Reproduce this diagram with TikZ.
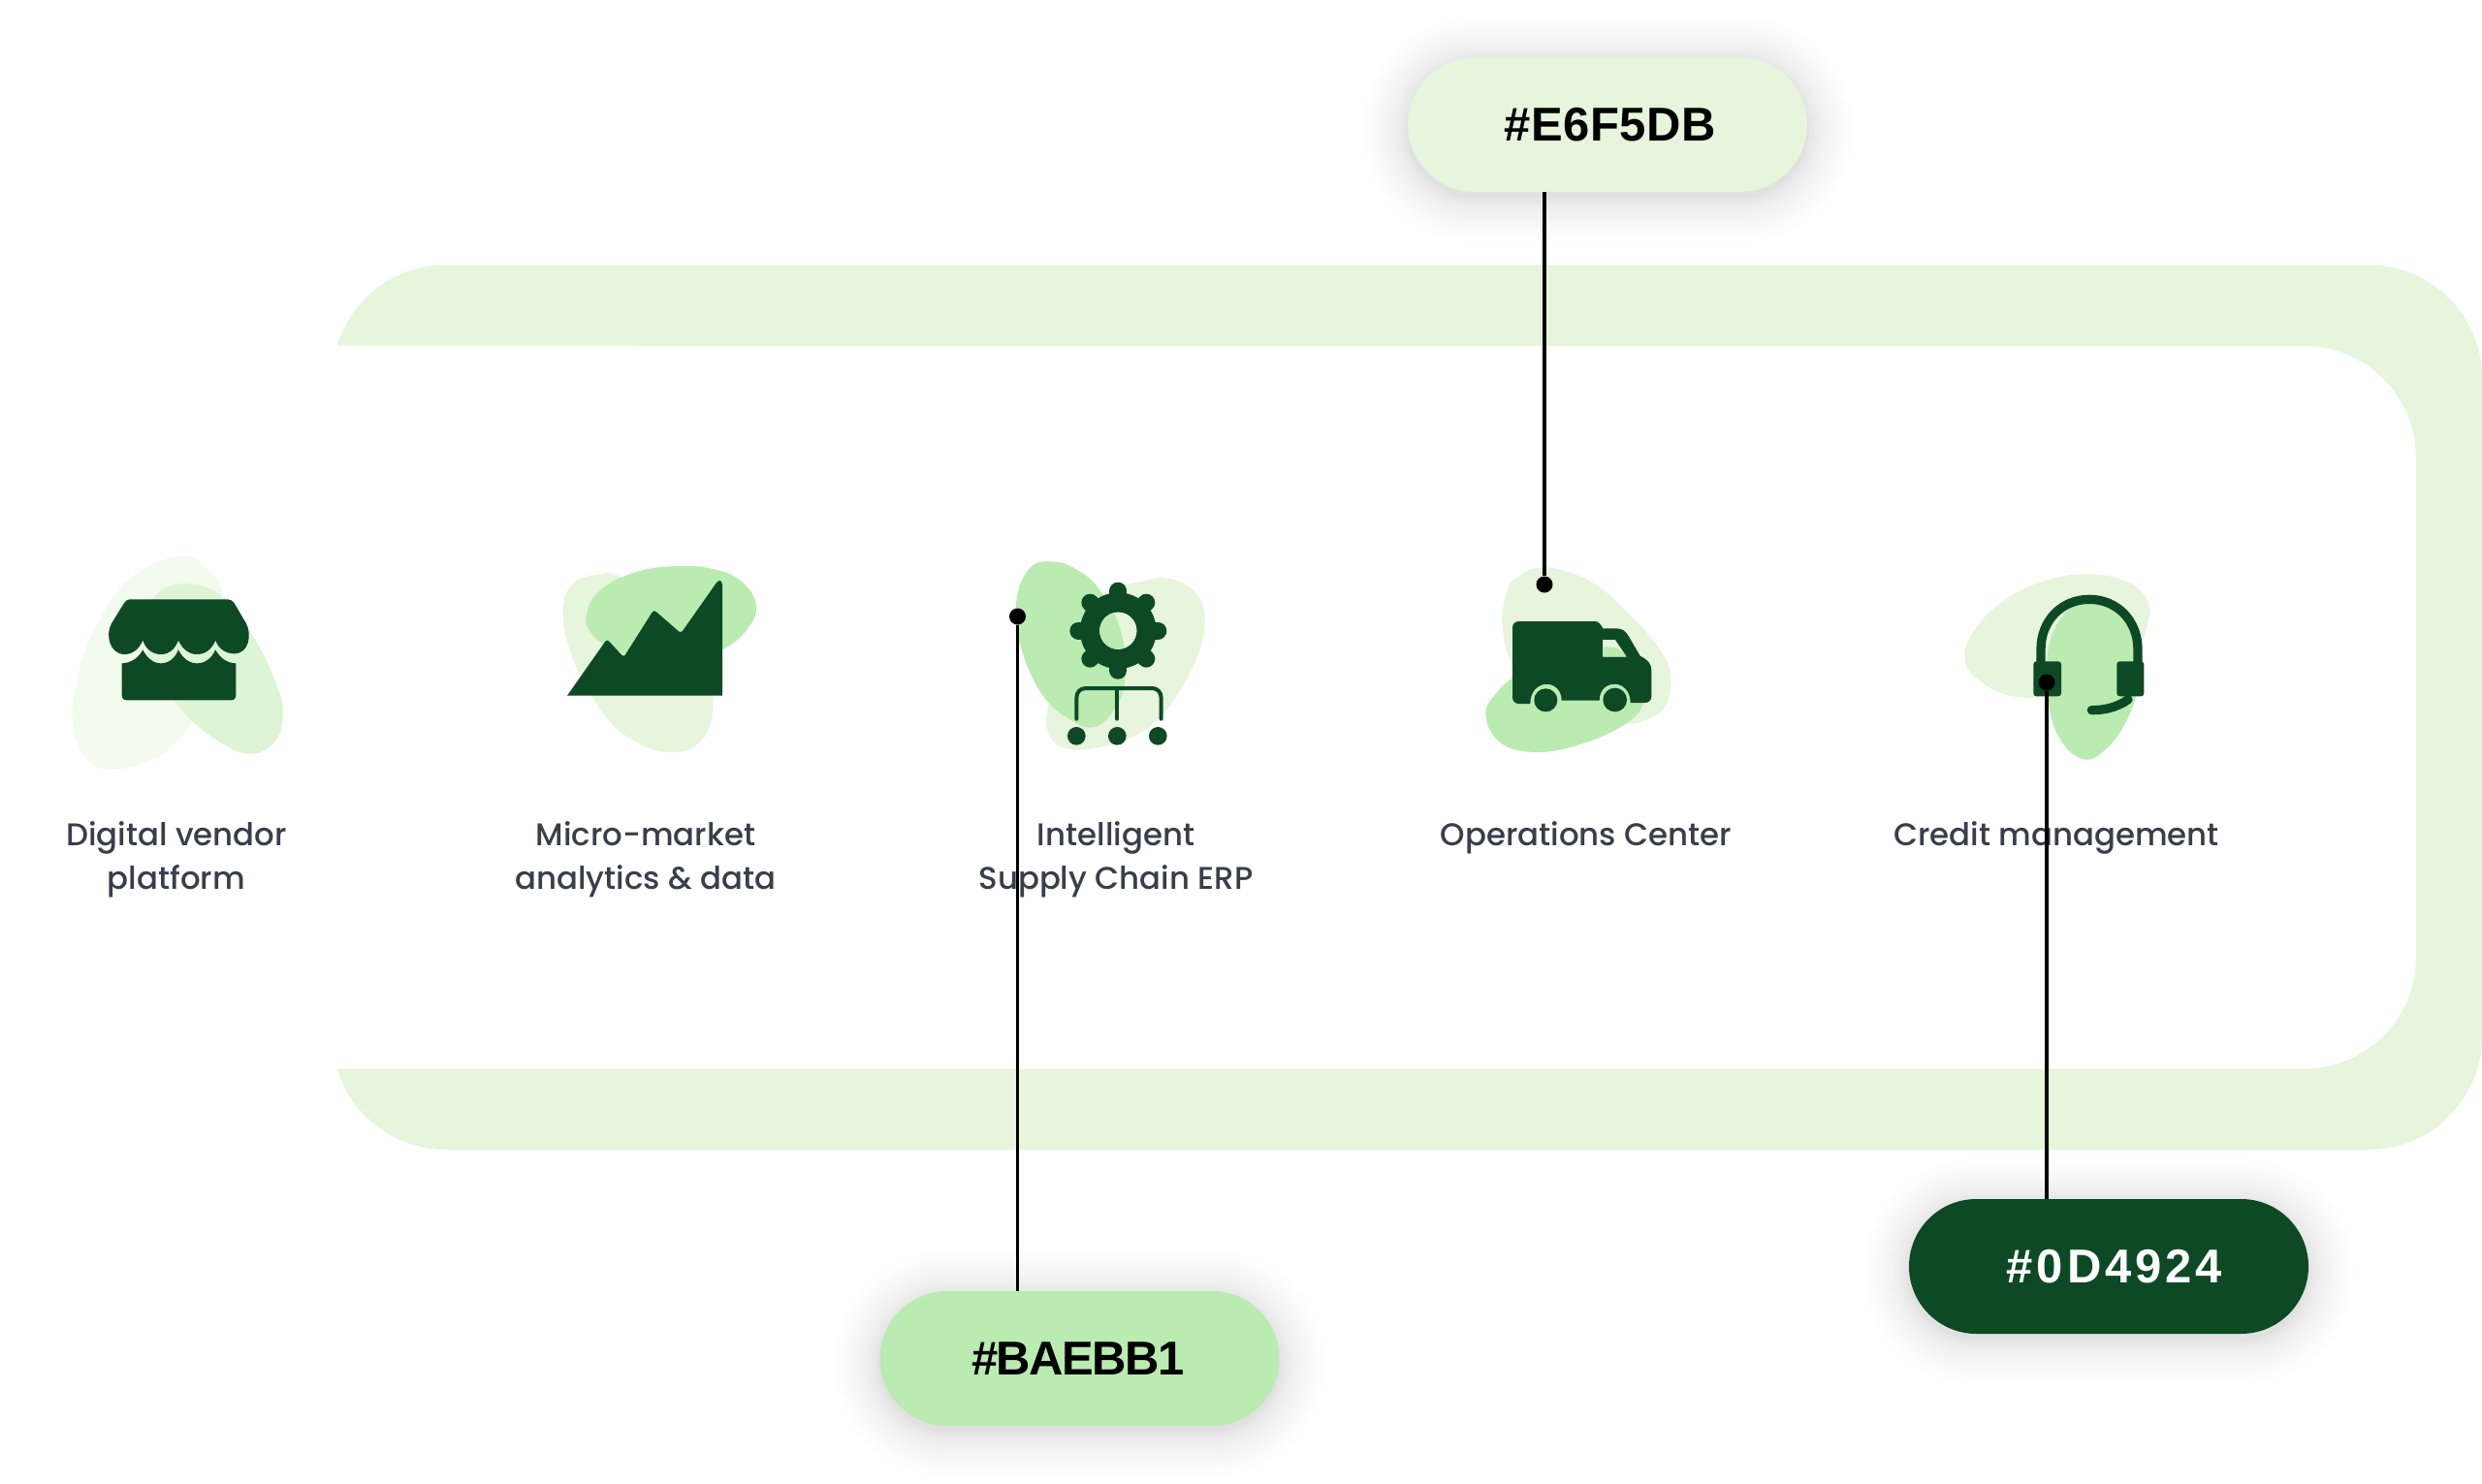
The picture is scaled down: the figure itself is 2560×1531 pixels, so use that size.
\documentclass[tikz,border=0pt]{standalone}
\usepackage{fontspec}
\usetikzlibrary{shapes.misc}
\setmainfont{Liberation Sans}
\newfontfamily\labfont{Poppins Medium}
\definecolor{pale}{HTML}{E6F5DB}
\definecolor{mint}{HTML}{BAEBB1}
\definecolor{deep}{HTML}{0D4924}
\definecolor{faint}{HTML}{F3FAEE}
\definecolor{soft}{HTML}{DDF4D5}
\definecolor{inkgrey}{HTML}{3C3C4C}
\tikzset{
  pill/.style={rounded rectangle,minimum width=412pt,minimum height=139pt,inner sep=0pt,font=\fontsize{49}{56}\selectfont\bfseries},
  lab/.style={anchor=base,align=center,inner sep=0pt,text=inkgrey,font=\fontsize{32.4}{45}\selectfont\labfont},
  conn/.style={draw=black,line width=3.4pt},
  pin/.style={circle,fill=black,minimum size=17pt,inner sep=0pt},
  icon/.style={fill=deep},
  iconline/.style={draw=deep,line cap=round,fill=none},
  zoomed/.style={x=0.33333pt,y=-0.33333pt},
  blob/.style={smooth cycle,tension=.7}
}
\newcommand{\pillshadow}[2]{%
  \foreach \g in {1,2,3,5,7,9,12,15,18,22,26,30,35,40,46}{%
    \pgfmathsetmacro{\rr}{69.5+\g}%
    \fill[black,opacity=.006,rounded corners=\rr pt] ({#1-206-\g},{#2-69.5-\g+5}) rectangle ({#1+206+\g},{#2+69.5+\g+5});
  }}
\newcommand{\gearblobs}{%
  \fill[pale] plot[blob] coordinates {(510,80)(590,120)(622,200)(600,320)(510,480)(400,570)(280,605)(190,605)(140,560)(140,470)(200,300)(330,130)(430,90)};
  \fill[mint] plot[blob] coordinates {(150,28)(80,50)(40,150)(50,280)(120,440)(220,525)(285,538)(340,490)(375,400)(365,250)(300,120)(230,55)};}
\newcommand{\truckblobs}{%
  \fill[pale] plot[blob] coordinates {(210,33)(290,40)(400,90)(510,190)(600,300)(625,390)(600,470)(540,505)(480,510)(300,450)(150,350)(105,220)(120,100)(160,55)};
  \fill[mint] plot[blob] coordinates {(52,490)(85,420)(150,365)(280,300)(430,278)(490,310)(535,400)(535,465)(470,525)(340,580)(210,603)(100,575)};}
\begin{document}
\begin{tikzpicture}[x=1pt,y=-1pt]
\useasboundingbox (0,0) rectangle (2560,1531);
\fill[white] (0,0) rectangle (2560,1531);
% band
\fill[pale] (347.7,356.7) .. controls (362.5,307.2) and (408.3,273.3) .. (460,273.3)
  -- (2443,273.3) .. controls (2507.6,273.3) and (2560,325.7) .. (2560,390.3)
  -- (2560,1069) .. controls (2560,1133.6) and (2507.6,1186) .. (2443,1186)
  -- (460,1186) .. controls (408.3,1186) and (362.5,1152.1) .. (347.7,1102.6)
  -- (2377,1102.6) .. controls (2440.5,1102.6) and (2492,1051.1) .. (2492,987.6)
  -- (2492,472) .. controls (2492,408.5) and (2440.5,357) .. (2377,357)
  -- (347.7,356.7) -- cycle;
% store icon
\begin{scope}[shift={(60,565)},zoomed]
  \fill[faint] plot[blob] coordinates {(370,28)(460,65)(510,170)(480,400)(400,560)(300,650)(170,685)(85,650)(45,540)(60,410)(110,260)(220,100)};
  \fill[soft] plot[blob] coordinates {(385,112)(500,145)(600,270)(670,410)(695,510)(670,600)(590,638)(490,595)(390,510)(300,380)(265,250)(300,150)};
  \fill[icon] (222,160) -- (525,160) .. controls (535,160) and (540,165) .. (545,172) -- (582,235)
    .. controls (600,270) and (590,328) .. (545,328) .. controls (515,328) and (495,310) .. (487,287)
    .. controls (475,315) and (455,330) .. (430,330) .. controls (405,330) and (385,315) .. (372,287)
    .. controls (360,315) and (345,330) .. (318,330) .. controls (292,330) and (272,315) .. (262,287)
    .. controls (250,315) and (230,330) .. (205,330) .. controls (160,330) and (145,270) .. (165,235)
    -- (205,170) .. controls (210,163) and (215,160) .. (222,160) -- cycle;
  \fill[icon] (197,358) .. controls (225,358) and (250,340) .. (262,316)
    .. controls (275,342) and (295,358) .. (318,358) .. controls (342,358) and (362,342) .. (372,316)
    .. controls (385,342) and (405,358) .. (430,358) .. controls (455,358) and (475,342) .. (487,316)
    .. controls (500,342) and (525,358) .. (550,358)
    -- (550,455) .. controls (550,467) and (545,472) .. (535,472) -- (212,472)
    .. controls (202,472) and (197,467) .. (197,455) -- cycle;
\end{scope}
% chart icon
\begin{scope}[shift={(570,570)},zoomed]
  \fill[pale] plot[blob] coordinates {(140,68)(60,100)(32,190)(60,320)(130,460)(230,570)(370,618)(470,570)(497,450)(480,350)(350,160)(210,75)};
  \fill[mint] plot[blob] coordinates {(390,42)(500,52)(585,90)(630,165)(600,240)(525,300)(420,325)(300,330)(190,300)(120,250)(105,190)(150,115)(260,60)};
  \fill[icon] (525,443) [sharp corners] -- (45,443) [rounded corners=3pt] -- (168,268) -- (220,324) -- (313,177) -- (397,250) -- (513,85) -- (525,90) [sharp corners] -- cycle;
\end{scope}
% gear icon
\begin{scope}[shift={(1035,570)},zoomed]
  \gearblobs
  \fill[icon] (355,242) circle[radius=118];
  \foreach \a in {0,45,...,315}
    \draw[deep,line width=18pt,line cap=round] (355,242) -- ++(\a:123 and 123);
  \begin{scope}
    \clip (355,242) circle[radius=57];
    \fill[white] (355,242) circle[radius=60];
    \gearblobs
  \end{scope}
  \draw[iconline,line width=4pt] (226,515) -- (226,450) .. controls (226,432) and (238,420) .. (255,420) -- (460,420) .. controls (476,420) and (488,432) .. (488,450) -- (488,515);
  \draw[iconline,line width=4pt] (352,420) -- (352,515);
  \foreach \cx in {226,352,478}
    \fill[icon] (\cx,568) circle[radius=28];
\end{scope}
% truck icon
\begin{scope}[shift={(1515,575)},zoomed]
  \truckblobs
  \fill[icon] (155,198) -- (390,198) .. controls (402,198) and (408,208) .. (415,220) -- (455,220)
    .. controls (475,220) and (485,228) .. (495,245) -- (530,305) .. controls (555,318) and (565,330) .. (565,350)
    -- (565,430) .. controls (565,443) and (555,450) .. (545,450) -- (500,450)
    .. controls (500,374) and (404,374) .. (404,443) -- (287,443)
    .. controls (287,374) and (190,374) .. (190,453) -- (155,453)
    .. controls (143,453) and (135,445) .. (135,433) -- (135,218) .. controls (135,206) and (143,198) .. (155,198) -- cycle;
  \fill[icon] (238,442) circle[radius=36];
  \fill[icon] (452,441) circle[radius=37];
  \begin{scope}
    \clip (415,255) -- (452,255) -- (487,307) -- (415,307) -- cycle;
    \fill[white] (400,240) rectangle (500,320);
    \truckblobs
  \end{scope}
\end{scope}
% headset icon
\begin{scope}[shift={(1900,540)},zoomed]
  \fill[pale] plot[blob] coordinates {(760,157)(880,180)(945,240)(945,310)(900,400)(760,480)(640,530)(530,535)(430,490)(380,420)(410,330)(500,240)(620,180)};
  \fill[mint] plot[blob] coordinates {(740,245)(680,290)(640,380)(635,500)(660,640)(740,728)(820,695)(890,590)(920,470)(915,370)(860,280)(800,250)};
  \draw[iconline,line width=9.3pt] (615,440) -- (615,390) .. controls (615,300) and (680,235) .. (765,235) .. controls (850,235) and (915,300) .. (915,390) -- (915,440);
  \fill[icon,rounded corners=3pt] (592,427) rectangle (678,535);
  \fill[icon,rounded corners=3pt] (850,427) rectangle (934,535);
  \draw[iconline,line width=9.3pt] (885,545) .. controls (850,570) and (810,578) .. (772,578);
\end{scope}
% labels
\node[lab] (l1) at (182,917) {Digital vendor\\platform};
\node[lab] (l2) at (666,917) {Micro-market\\analytics \& data};
\node[lab] (l3) at (1151,917) {Intelligent\\Supply Chain ERP};
\node[lab] (l4) at (1636,872) {Operations Center};
\node[lab] (l5) at (2121,872) {Credit management};
% shadows and pills
\pillshadow{1658}{128.5}
\pillshadow{1113.5}{1401.5}
\pillshadow{2175}{1306.5}
\node[pill,fill=pale,text=black] (pe) at (1658,128.5) {\addfontfeatures{LetterSpace=1}\hspace*{6pt}\#E6F5DB};
\node[pill,fill=mint,text=black] (pb) at (1113.5,1401.5) {\addfontfeatures{LetterSpace=-3}\#BAEBB1\hspace*{3pt}};
\node[pill,fill=deep,text=white] (pd) at (2175,1306.5) {\addfontfeatures{LetterSpace=8}\hspace*{12pt}\#0D4924};
% connectors
\node[pin] (de) at (1593,603) {};
\node[pin] (db) at (1049.5,636) {};
\node[pin] (dd) at (2111,704) {};
\draw[conn] (de |- pe.south) -- (de);
\draw[conn] (db |- pb.north) -- (db);
\draw[conn] (dd |- pd.north) -- (dd);
\end{tikzpicture}
\end{document}
